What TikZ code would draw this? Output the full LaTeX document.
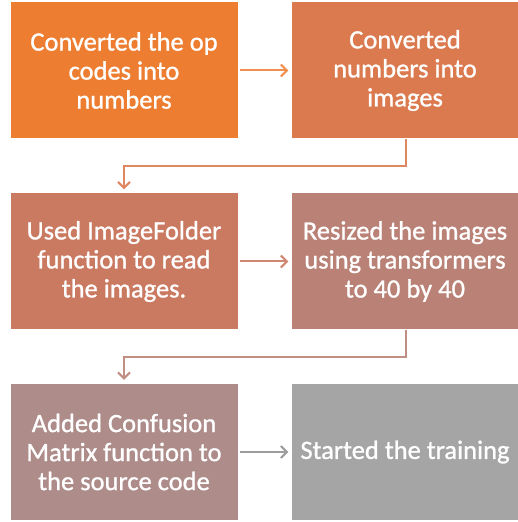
\documentclass[tikz,border=0pt]{standalone}
\usepackage{fontspec}
\setmainfont{Carlito}
% text face of the boxes: the regular Carlito, slightly emboldened
\newfontfamily\boxface[BoldFont=Carlito, BoldFeatures={FakeBold=1}]{Carlito}
\usetikzlibrary{arrows.meta,positioning}

\definecolor{stepA}{RGB}{236,125,49}
\definecolor{stepB}{RGB}{219,122,78}
\definecolor{stepC}{RGB}{203,122,98}
\definecolor{stepD}{RGB}{186,130,118}
\definecolor{stepE}{RGB}{173,140,138}
\definecolor{stepF}{RGB}{165,165,165}

\tikzset{
  procbox/.style={draw=none, inner sep=0pt, minimum width=227pt, minimum height=136pt,
    text=white, align=center, font=\boxface\bfseries\fontsize{26.5}{29}\selectfont},
  flow/.style={line width=2pt, -{Straight Barb[length=6pt,width=12pt,line width=2pt]}}
}

\begin{document}
\begin{tikzpicture}[x=1pt,y=1pt]
  \useasboundingbox (0,0) rectangle (517,522);

  % first row
  \node[procbox, fill=stepA] (b1) at (124,451.5) {Converted the op\\codes into\\numbers};
  \node[procbox, fill=stepB] (b2) at (405,451.5) {Converted\\numbers into\\images};
  % second row
  \node[procbox, fill=stepC] (b3) at (124,260.5) {Used ImageFolder\\function to read\\the images.};
  \node[procbox, fill=stepD] (b4) at (405,260.5) {Resized the images\\using transformers\\to 40 by 40};
  % third row
  \node[procbox, fill=stepE] (b5) at (124,70) {Added Confusion\\Matrix function to\\the source code};
  \node[procbox, fill=stepF] (b6) at (405,70) {Started the training};

  % connectors
  \draw[flow, draw=stepA!85!white] ([xshift=2pt]b1.east) -- ([xshift=-3pt]b2.west);
  \draw[flow, draw=stepB!90!white] ([xshift=1pt]b2.south) -- ++(0,-27) -| ([yshift=4pt]b3.north);
  \draw[flow, draw=stepC!90!white] ([xshift=2pt]b3.east) -- ([xshift=-3pt]b4.west);
  \draw[flow, draw=stepD!90!white] ([xshift=1pt]b4.south) -- ++(0,-27) -| ([yshift=4pt]b5.north);
  \draw[flow, draw=stepF!95!black] ([xshift=2pt]b5.east) -- ([xshift=-3pt]b6.west);
\end{tikzpicture}
\end{document}
